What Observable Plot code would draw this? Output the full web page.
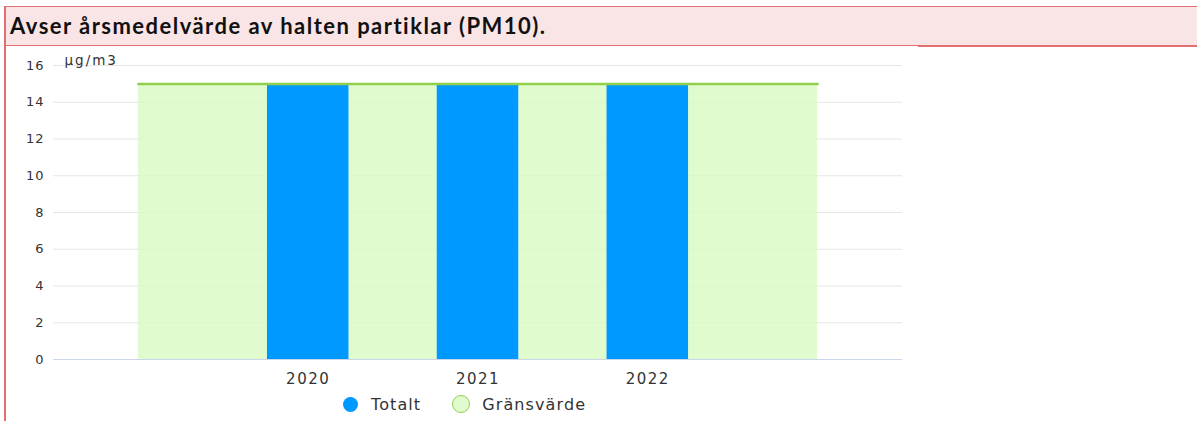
<!DOCTYPE html>
<html>
<head>
<meta charset="utf-8">
<script src="https://cdn.jsdelivr.net/npm/d3@7"></script>
<script src="https://cdn.jsdelivr.net/npm/@observablehq/plot@0.6"></script>
<style>
  html, body { margin: 0; padding: 0; background: #fff; width: 1197px; height: 421px; overflow: hidden; }
  #wrap { position: relative; width: 1197px; height: 421px; }
  #title {
    position: absolute; left: 4px; top: 6px; width: 1191px; height: 38px;
    background: #f9e5e5; border: 1px solid #e07070; border-left-width: 2px; border-right: none;
    font-family: Lato, "Open Sans", sans-serif; font-weight: bold; font-size: 22px; color: #111;
    line-height: 38px; padding-left: 4px; box-sizing: content-box; white-space: nowrap;
  }
  #step { position: absolute; left: 918px; top: 45px; width: 279px; height: 2px; background: #e07070; }
  #leftline { position: absolute; left: 4px; top: 45px; width: 2px; height: 376px; background: #e07070; }
  #chart { position: absolute; left: 0; top: 46px; }
  .chart g[aria-label="x-axis tick label"] { letter-spacing: 1.5px; }
  .chart g[aria-label="y-axis tick label"] { letter-spacing: 1px; }
  .chart g[aria-label="text"] { letter-spacing: 2px; }
  #legend { position: absolute; top: 395px; left: 343px; display: flex; align-items: center;
    font-family: "DejaVu Sans", sans-serif; font-size: 16px; color: #333; letter-spacing: 1.1px; height: 18px; }
  .item { display: flex; align-items: center; }
  .sw { width: 15px; height: 15px; border-radius: 50%; box-sizing: border-box; margin-right: 13px; }
</style>
</head>
<body>
<div id="wrap">
  <div id="title"></div>
  <div id="step"></div>
  <div id="leftline"></div>
  <div id="chart"></div>
  <div id="legend"></div>
</div>
<script>
const titleText = "Avser årsmedelvärde av halten partiklar (PM10).";
const unit = "µg/m3";
const years = ["2020", "2021", "2022"];
const totalt = [15, 15, 15];
const gransvarde = [15, 15, 15, 15, 15]; // limit series, one point before and after the years
const yTicks = [0, 2, 4, 6, 8, 10, 12, 14, 16];
const seriesNames = ["Totalt", "Gränsvärde"];
const seriesColors = ["#0099ff", "#90d04a"];

const titleEl = document.getElementById("title");
titleEl.textContent = titleText;
// stretch the title to the reference width (Calibri-like proportions)
{
  const ctx = document.createElement("canvas").getContext("2d");
  ctx.font = "bold 22px Lato";
  const w = ctx.measureText(titleText).width;
  const target = 537;
  const ls = Math.max(0, (target - w) / (titleText.length - 1));
  titleEl.style.letterSpacing = ls.toFixed(2) + "px";
}

const barData = years.map((y, i) => ({year: y, i, v: totalt[i]}));
const limitData = gransvarde.map((v, k) => ({i: k - 1, v}));

const chart = Plot.plot({
  width: 1197,
  height: 346,
  marginLeft: 53,
  marginRight: 295,
  marginTop: 19,
  marginBottom: 33,
  className: "chart",
  style: {fontFamily: "DejaVu Sans, sans-serif", color: "#333", background: "transparent", overflow: "visible"},
  x: {type: "linear", domain: [-1.5, 3.5]},
  y: {domain: [0, 16]},
  marks: [
    Plot.gridY(yTicks, {stroke: "#e6e6e6", strokeOpacity: 1}),
    Plot.areaY(limitData, {x: "i", y: "v", fill: "#d8fbc2", fillOpacity: 0.8}),
    Plot.rectY(barData, {x1: d => d.i - 0.24, x2: d => d.i + 0.24, y: "v", fill: seriesColors[0]}),
    Plot.lineY(limitData, {x: "i", y: "v", stroke: seriesColors[1], strokeWidth: 2.5}),
    Plot.ruleY([0], {stroke: "#ccd6eb"}),
    Plot.axisY(yTicks, {tickSize: 0, tickPadding: 9, label: null, fontSize: 13}),
    Plot.axisX([0, 1, 2], {tickSize: 0, tickPadding: 14, tickFormat: i => years[i], label: null, fontSize: 15}),
    Plot.text([unit], {frameAnchor: "top-left", dx: 11, dy: -10, textAnchor: "start", fontSize: 13.5})
  ]
});
document.getElementById("chart").appendChild(chart);

const legend = document.getElementById("legend");
seriesNames.forEach((name, k) => {
  const item = document.createElement("div");
  item.className = "item";
  if (k > 0) item.style.marginLeft = "31px";
  const sw = document.createElement("div");
  sw.className = "sw";
  if (k === 0) {
    sw.style.background = seriesColors[0];
  } else {
    sw.style.width = "18px"; sw.style.height = "18px";
    sw.style.background = "#e1fbd0";
    sw.style.border = "1.5px solid " + seriesColors[1];
    sw.style.marginRight = "12px";
  }
  const t = document.createElement("span");
  t.textContent = name;
  item.appendChild(sw);
  item.appendChild(t);
  legend.appendChild(item);
});
</script>
</body>
</html>
